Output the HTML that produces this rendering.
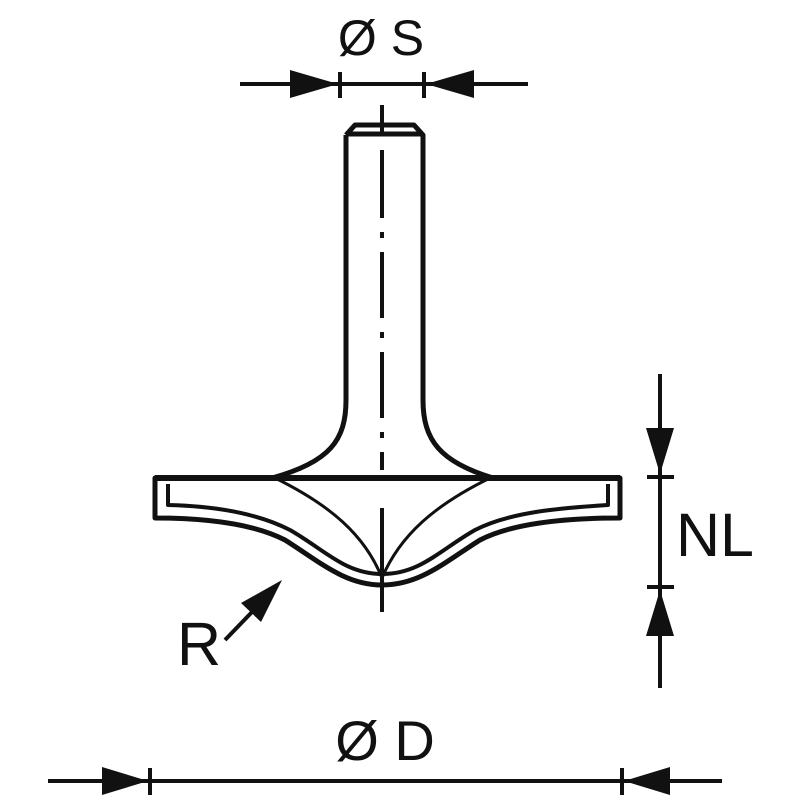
<!DOCTYPE html>
<html><head><style>html,body{margin:0;padding:0;background:#fff}svg{display:block}</style></head>
<body>
<svg width="800" height="800" viewBox="0 0 800 800" xmlns="http://www.w3.org/2000/svg">
<g fill="none" stroke="#111" stroke-width="5" stroke-linejoin="round">
<!-- shank -->
<path d="M346,135 L355,125 L414,125 L423,135 L423,400 C423,440 440,462 493,478"/>
<path d="M346,135 L346,400 C346,440 330,462 272,478"/>
<line x1="346" y1="134" x2="423" y2="134"/>
<!-- flange outline -->
<path d="M272,478 L155,478 L155,518 C200,518 250,522 285,540 C320,562 345,585 382,585 C420,585 445,562 480,540 C515,522 570,518 620,518 L620,478 L493,478"/>
<!-- inner profile -->
<path d="M168,484 L168,505 C210,506 255,512 290,530 C325,550 345,574 382,574 C420,574 440,550 475,530 C510,512 560,508 608,505 L608,484" stroke-width="4"/>
<line x1="155" y1="478" x2="620" y2="478" stroke-width="6"/>
</g>
<!-- arcs -->
<g fill="none" stroke="#111" stroke-width="3">
<path d="M275,478 C330,505 365,535 382,578"/>
<path d="M490,478 C435,505 400,535 382,578"/>
</g>
<!-- centerline -->
<g stroke="#111" stroke-width="4">
<line x1="382" y1="105" x2="382" y2="134"/>
<line x1="382" y1="150" x2="382" y2="218"/>
<line x1="382" y1="232" x2="382" y2="238"/>
<line x1="382" y1="252" x2="382" y2="318"/>
<line x1="382" y1="332" x2="382" y2="338"/>
<line x1="382" y1="352" x2="382" y2="418"/>
<line x1="382" y1="432" x2="382" y2="438"/>
<line x1="382" y1="452" x2="382" y2="470"/>
<line x1="382" y1="508" x2="382" y2="612"/>
</g>
<!-- dimension ØS -->
<g stroke="#111" stroke-width="4">
<line x1="240" y1="84" x2="528" y2="84"/>
<line x1="340" y1="72" x2="340" y2="98"/>
<line x1="424" y1="72" x2="424" y2="98"/>
<line x1="48" y1="781" x2="722" y2="781"/>
<line x1="150" y1="768" x2="150" y2="795"/>
<line x1="622" y1="768" x2="622" y2="795"/>
<line x1="660" y1="374" x2="660" y2="688"/>
<line x1="647" y1="477" x2="674" y2="477"/>
<line x1="647" y1="587" x2="674" y2="587"/>
<line x1="225" y1="640" x2="252" y2="612"/>
</g>
<g fill="#111">
<polygon points="290,70 338,84 290,98"/>
<polygon points="474,70 426,84 474,98"/>
<polygon points="102,767 148,781 102,795"/>
<polygon points="670,767 624,781 670,795"/>
<polygon points="646,428 674,428 660,474"/>
<polygon points="646,636 674,636 660,590"/>
<polygon points="282,580 241,603 261,622"/>
</g>
<g font-family="Liberation Sans, sans-serif" fill="#111">
<text x="381" y="55" font-size="50" text-anchor="middle">Ø S</text>
<text x="385" y="760" font-size="56" text-anchor="middle">Ø D</text>
<text x="676" y="556" font-size="61">NL</text>
<text x="177" y="665" font-size="61">R</text>
</g>
</svg>
</body></html>
